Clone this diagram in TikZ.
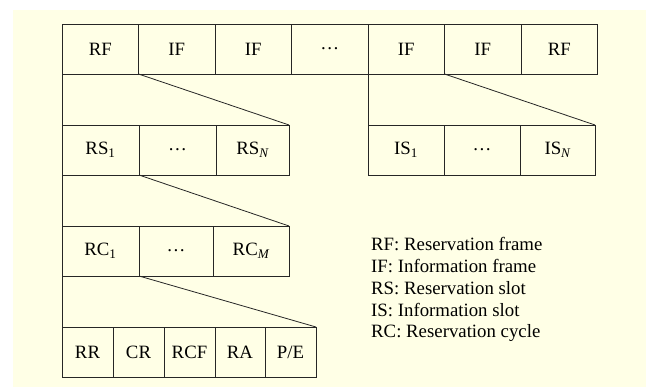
\documentclass[tikz,border=0pt]{standalone}
\usepackage{fontspec}
\setmainfont{Liberation Serif}
\usetikzlibrary{positioning}
\definecolor{cream}{RGB}{255,255,230}
\tikzset{
	cell/.style={draw=black!85, line width=0.8pt, minimum height=50pt, inner sep=0pt, outer sep=0pt, font=\fontsize{18.8}{21.7}\selectfont},
	link/.style={draw=black!85, line width=0.8pt}
}
\begin{document}
\begin{tikzpicture}[x=1pt, y=-1pt]
	\useasboundingbox (0,0) rectangle (646,387);
	\fill[cream] (13,10) rectangle (646,387);
	\node[cell, minimum width=76.5pt, anchor=north west] (rf1) at (62,24) {RF};
	\node[cell, minimum width=76.5pt, right=0pt of rf1] (if1) {IF};
	\node[cell, minimum width=76.5pt, right=0pt of if1] (if2) {IF};
	\node[cell, minimum width=76.5pt, right=0pt of if2] (ifdots) {\dots};
	\node[cell, minimum width=76.5pt, right=0pt of ifdots] (if3) {IF};
	\node[cell, minimum width=76.5pt, right=0pt of if3] (if4) {IF};
	\node[cell, minimum width=76.5pt, right=0pt of if4] (rf2) {RF};
	\node[cell, minimum width=77pt, anchor=north west] (rs1) at (62,125) {RS\textsubscript{1}};
	\node[cell, minimum width=77pt, right=0pt of rs1] (rsdots) {\dots};
	\node[cell, minimum width=73pt, right=0pt of rsdots] (rsN) {RS\textsubscript{\itshape N}};
	\node[cell, minimum width=76pt, anchor=north west] (is1) at (368,125) {IS\textsubscript{1}};
	\node[cell, minimum width=76pt, right=0pt of is1] (isdots) {\dots};
	\node[cell, minimum width=75pt, right=0pt of isdots] (isN) {IS\textsubscript{\itshape N}};
	\node[cell, minimum width=77pt, anchor=north west] (rc1) at (62,226) {RC\textsubscript{1}};
	\node[cell, minimum width=74pt, right=0pt of rc1] (rcdots) {\dots};
	\node[cell, minimum width=76pt, right=0pt of rcdots] (rcM) {RC\textsubscript{\itshape M}};
	\node[cell, minimum width=51pt, anchor=north west] (rr) at (62,327) {RR};
	\node[cell, minimum width=51pt, right=0pt of rr] (cr) {CR};
	\node[cell, minimum width=51pt, right=0pt of cr] (rcf) {RCF};
	\node[cell, minimum width=50pt, right=0pt of rcf] (ra) {RA};
	\node[cell, minimum width=51pt, right=0pt of ra] (pe) {P/E};
	\draw[link] (rf1.south west) -- (rs1.north west);
	\draw[link] (rf1.south east) -- (rsN.north east);
	\draw[link] (if3.south west) -- (is1.north west);
	\draw[link] (if3.south east) -- (isN.north east);
	\draw[link] (rs1.south west) -- (rc1.north west);
	\draw[link] (rs1.south east) -- (rcM.north east);
	\draw[link] (rc1.south west) -- (rr.north west);
	\draw[link] (rc1.south east) -- (pe.north east);
	\node[anchor=north west, inner sep=0pt, align=left, font=\fontsize{18.8}{21.7}\selectfont] (legend) at (371,237.5) {RF: Reservation frame\\IF: Information frame\\RS: Reservation slot\\IS: Information slot\\RC: Reservation cycle};
\end{tikzpicture}
\end{document}
